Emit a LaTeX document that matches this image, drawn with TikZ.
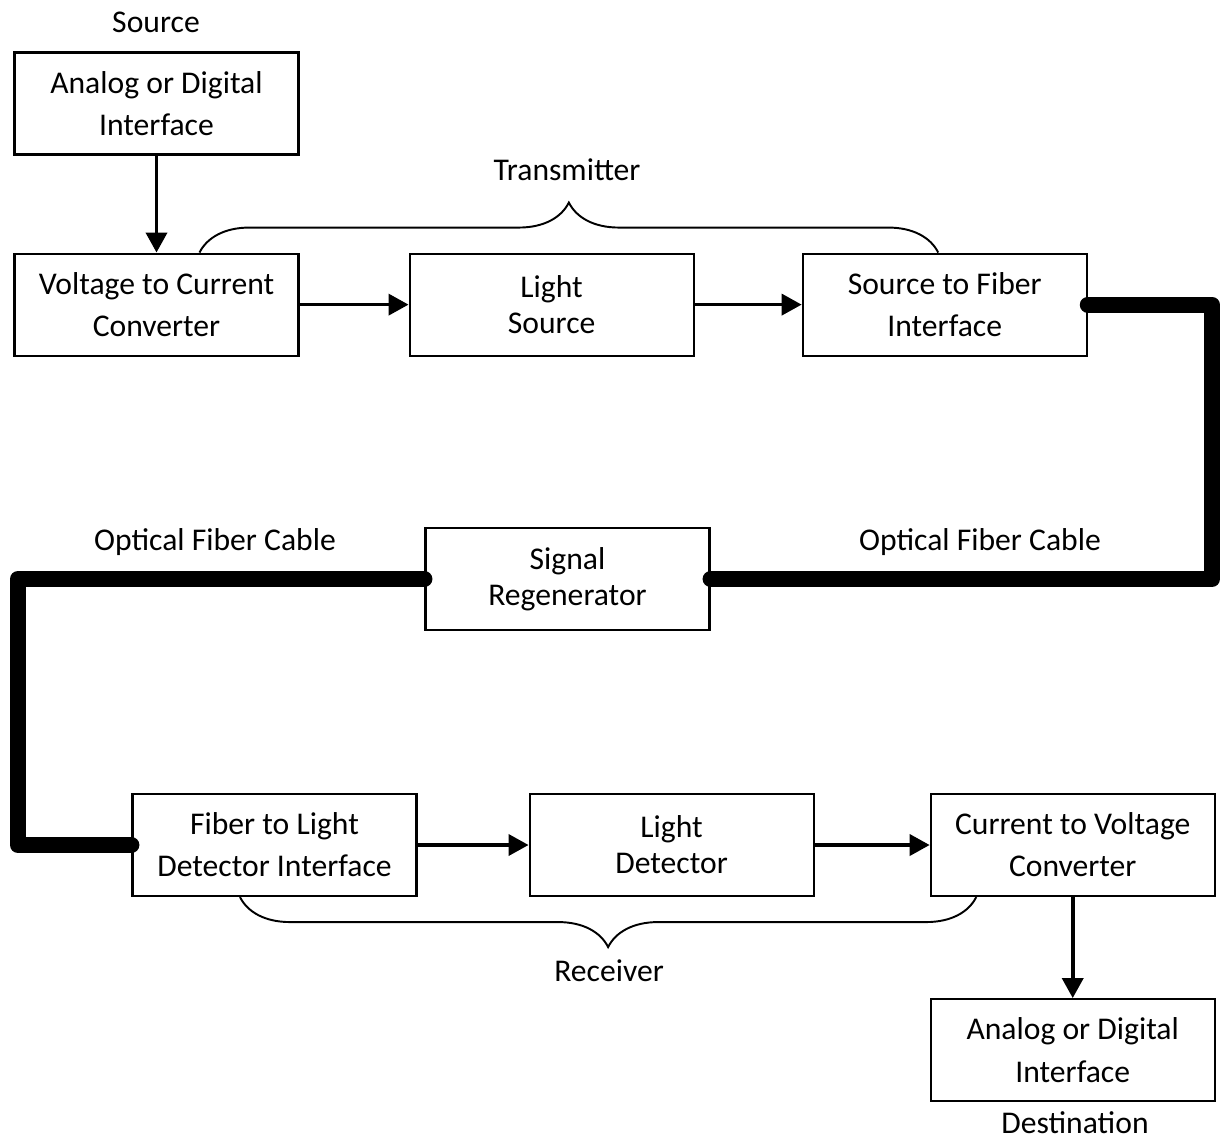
\documentclass[tikz,border=0pt]{standalone}
\usepackage{fontspec}
\setmainfont{Carlito}
\usetikzlibrary{arrows.meta, positioning, decorations.pathreplacing}

\begin{document}
\begin{tikzpicture}[
    font=\fontsize{18}{24}\selectfont,
    block/.style={rectangle, draw, line width=1.2pt, minimum width=5.68cm, minimum height=2.04cm, inner sep=0pt, align=center},
    tight/.style={font=\fontsize{18}{20.5}\selectfont},
    arrow/.style={-{Triangle[length=0.4cm,width=0.42cm]}, line width=2.1pt},
    fiber/.style={line width=0.32cm, line cap=round, line join=round},
    brace/.style={decorate, decoration={brace, amplitude=1cm}, line width=1.1pt},
    caption/.style={inner sep=0pt}
]
\useasboundingbox (0,0) rectangle (24.4,-22.88);

% transmitter side
\node[block] (src) at (3.13,-2.07) {Analog or Digital\\Interface};
\node[block, below=1.94cm of src] (v2c) {Voltage to Current\\Converter};
\node[block, tight, right=2.18cm of v2c] (light) {Light\\Source};
\node[block, right=2.14cm of light] (s2f) {Source to Fiber\\Interface};

% regenerator
\node[block, tight] (regen) at (11.35,-11.58) {Signal\\Regenerator};

% receiver side
\node[block] (f2ld) at (5.49,-16.9) {Fiber to Light\\Detector Interface};
\node[block, tight, right=2.22cm of f2ld] (detect) {Light\\Detector};
\node[block, right=2.3cm of detect] (c2v) {Current to Voltage\\Converter};
\node[block, below=2.02cm of c2v] (dest) {Analog or Digital\\Interface};

% captions
\node[caption] (srclabel) at (3.12,-0.44) {Source};
\node[caption] (txlabel) at (11.34,-3.4) {Transmitter};
\node[caption] (cable1) at (4.3,-10.84) {Optical Fiber Cable};
\node[caption] (cable2) at (19.6,-10.84) {Optical Fiber Cable};
\node[caption] (rxlabel) at (12.18,-19.42) {Receiver};
\node[caption] (destlabel) at (21.5,-22.46) {Destination};

\draw[arrow] (src) -- (v2c);
\draw[arrow] (v2c) -- (light);
\draw[arrow] (light) -- (s2f);
\draw[arrow] (f2ld) -- (detect);
\draw[arrow] (detect) -- (c2v);
\draw[arrow] (c2v) -- (dest);

% fiber runs
\coordinate (bendR) at (24.24,-6.05);
\coordinate (bendL) at (0.36,-11.62);
\draw[fiber] (s2f.east) -- (s2f.east -| bendR) |- (regen.east);
\draw[fiber] (regen.west) -- (regen.west -| bendL) |- (f2ld.west);

% braces
\draw[brace] ([xshift=0.86cm]v2c.north) -- ([xshift=-0.13cm]s2f.north);
\draw[brace] ([xshift=-1.93cm]c2v.south) -- ([xshift=-0.69cm]f2ld.south);

\end{tikzpicture}
\end{document}
